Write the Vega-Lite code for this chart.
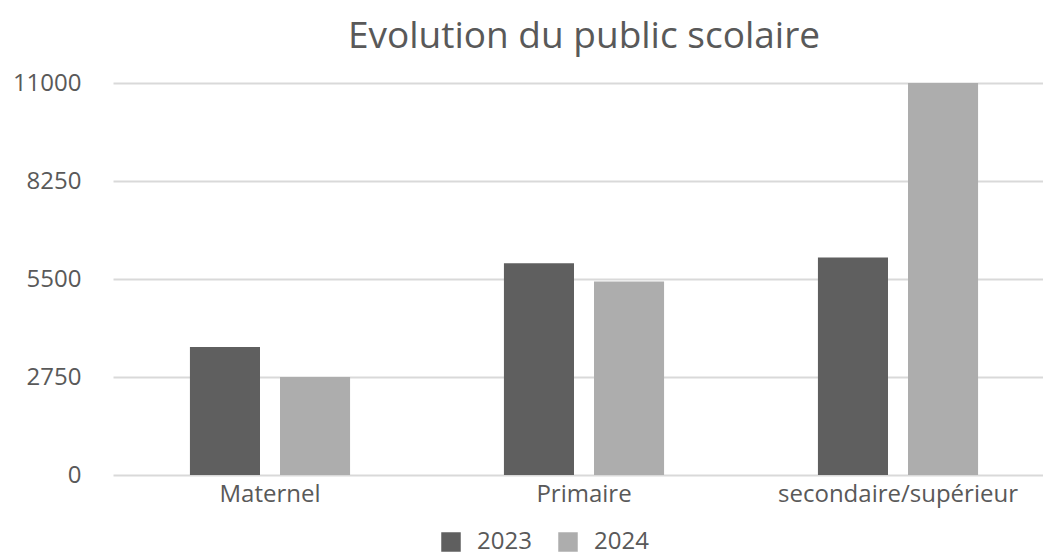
{
  "$schema": "https://vega.github.io/schema/vega-lite/v6.json",
  "autosize": {"type": "none"},
  "padding": {"left": 113, "top": 83, "right": 0, "bottom": 80},
  "width": 942,
  "height": 392,
  "background": "white",
  "title": {
    "text": "Evolution du public scolaire",
    "font": "Open Sans",
    "fontSize": 37,
    "fontWeight": "normal",
    "color": "#595959",
    "anchor": "middle",
    "offset": 15
  },
  "data": {
    "values": [
      {"niveau": "Maternel", "annee": "2023", "effectif": 3590},
      {"niveau": "Maternel", "annee": "2024", "effectif": 2750},
      {"niveau": "Primaire", "annee": "2023", "effectif": 5945},
      {"niveau": "Primaire", "annee": "2024", "effectif": 5430},
      {"niveau": "secondaire/supérieur", "annee": "2023", "effectif": 6100},
      {"niveau": "secondaire/supérieur", "annee": "2024", "effectif": 11000}
    ]
  },
  "mark": {"type": "bar"},
  "encoding": {
    "x": {
      "field": "niveau",
      "type": "nominal",
      "sort": null,
      "title": null,
      "scale": {"paddingInner": 0.49, "paddingOuter": 0.245},
      "axis": {
        "labelAngle": 0,
        "labelFont": "Open Sans",
        "labelFontSize": 24,
        "labelColor": "#595959",
        "labelPadding": 7,
        "labelLimit": 0,
        "ticks": false,
        "domain": false,
        "grid": false
      }
    },
    "xOffset": {
      "field": "annee",
      "type": "nominal",
      "scale": {"paddingInner": 0.222, "paddingOuter": 0}
    },
    "y": {
      "field": "effectif",
      "type": "quantitative",
      "title": null,
      "scale": {"domain": [0, 11000], "nice": false},
      "axis": {
        "values": [0, 2750, 5500, 8250, 11000],
        "format": "d",
        "labelFont": "Open Sans",
        "labelFontSize": 24,
        "labelColor": "#595959",
        "labelPadding": 32,
        "ticks": false,
        "domain": false,
        "grid": true,
        "gridColor": "#d9d9d9",
        "gridWidth": 2
      }
    },
    "color": {
      "field": "annee",
      "type": "nominal",
      "title": null,
      "scale": {"domain": ["2023", "2024"], "range": ["#5f5f5f", "#adadad"]},
      "legend": {
        "orient": "none",
        "direction": "horizontal",
        "legendX": 326,
        "legendY": 447,
        "symbolType": "square",
        "symbolSize": 380,
        "symbolStrokeWidth": 0,
        "labelFont": "Open Sans",
        "labelFontSize": 24,
        "labelColor": "#595959",
        "labelOffset": 14,
        "columnPadding": 24
      }
    }
  },
  "config": {"view": {"stroke": null}}
}
